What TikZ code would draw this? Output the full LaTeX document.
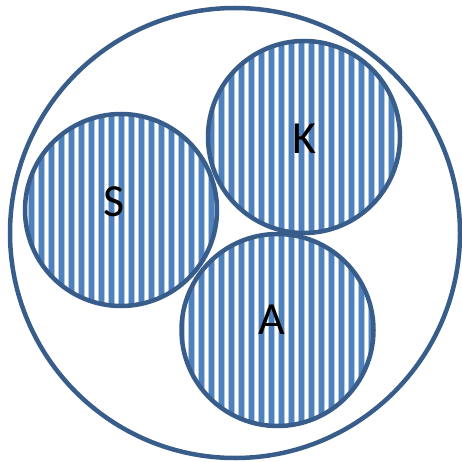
\documentclass[tikz,border=0pt]{standalone}
\usepackage{fontspec}
\setmainfont{Carlito}
\definecolor{edge}{RGB}{56,93,138}
\definecolor{stripe}{RGB}{79,129,189}
\definecolor{stripelight}{RGB}{178,201,228}
\begin{document}
\begin{tikzpicture}[x=1pt,y=-1pt,
  ring/.style={draw=edge,line width=4.5pt},
  lbl/.style={font=\fontsize{46}{46}\selectfont,text=black,inner sep=0pt}]
\useasboundingbox (0,0) rectangle (461,462);
\draw[ring,fill=white] (235,233) circle (225pt);
\foreach \cx/\cy in {121/210,304/137,277.5/330}{
  \begin{scope}
    \clip (\cx,\cy) circle (96pt);
    \foreach \k in {0,...,46}{
      \pgfmathsetmacro\xx{1.5+10*\k}
      \fill[stripelight] (\xx-3.4,\cy-100) rectangle (\xx+3.4,\cy+100);
      \fill[stripe] (\xx-2.4,\cy-100) rectangle (\xx+2.4,\cy+100);
    }
  \end{scope}
  \draw[ring] (\cx,\cy) circle (96pt);
}
\node[lbl] (S) at (114,202) {S};
\node[lbl] (K) at (304,139) {K};
\node[lbl] (A) at (272,320) {A};
\end{tikzpicture}
\end{document}
